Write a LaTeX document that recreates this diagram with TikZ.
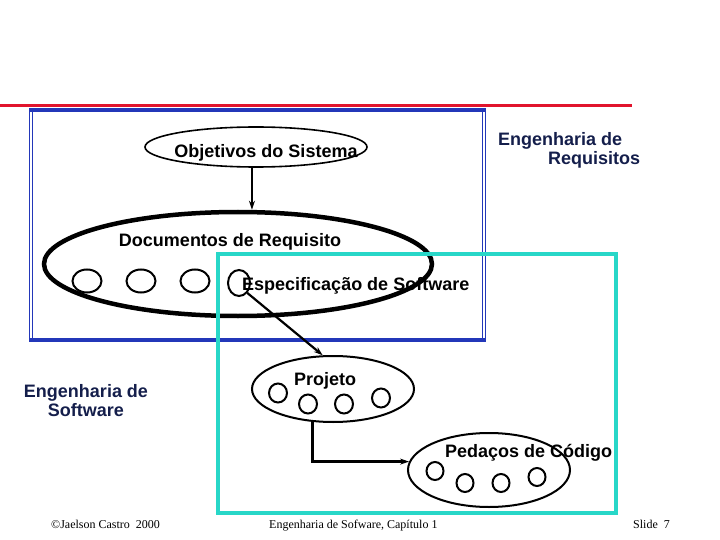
\documentclass[tikz,border=0pt]{standalone}
\usepackage{fontspec}
\setmainfont{Liberation Serif}
\setsansfont{Liberation Sans}
\usepackage{tikz}
\usetikzlibrary{arrows.meta,calc,shapes.geometric}
\definecolor{slidered}{RGB}{225,20,45}
\definecolor{frameblue}{RGB}{35,55,185}
\definecolor{boxcyan}{RGB}{40,215,200}
\definecolor{titlenavy}{RGB}{20,30,75}
\tikzset{
    lbl/.style={font=\fontsize{18}{19}\selectfont\sffamily\bfseries, inner sep=0pt},
    foot/.style={font=\fontsize{12}{14}\selectfont, inner sep=0pt},
    blob/.style={draw, ellipse, inner sep=0pt, line width=2pt},
    conn/.style={-{Stealth[length=9pt,width=6pt]}, line width=2.2pt}
}

\begin{document}
\begin{tikzpicture}[x=1pt,y=-1pt]
    \useasboundingbox (0,0) rectangle (720,540);
    \draw[slidered, line width=3pt] (0,105.5) to (632,105.5);
    \draw[frameblue, line width=0.8pt, double distance=1.6pt] (31,110) rectangle (484,340);
    \draw[frameblue, line width=3.5pt] 
    (30,110) to (485,110)
    (30,340) to (485,340);
    % requisitos
    \node[blob, line width=1.6pt, minimum width=222pt, minimum height=40pt] (obj) at (256,147) {};
    \node[blob, line width=4.5pt, minimum width=388pt, minimum height=104pt] (doc) at (238,264) {};
    \draw[conn] (obj.259) to (obj.259 |- doc.north);
    \node[blob, minimum width=29pt, minimum height=23pt] (c1) at (87,281) {};
    \node[blob, minimum width=29pt, minimum height=23pt] (c2) at (141,281) {};
    \node[blob, minimum width=29pt, minimum height=23pt] (c3) at (195,281) {};
    \node[blob, minimum width=22pt, minimum height=26pt] (c4) at (239,283) {};
    \draw[boxcyan, line width=4pt] (218,254) rectangle (616,513);
    % projeto e codigo
    \node[blob, minimum width=162pt, minimum height=66pt] (proj) at (333,389) {};
    \foreach \n/\x/\y in {1/278/393, 2/308/404, 3/344/404, 4/381/398}
        \node[blob, minimum width=18pt, minimum height=19pt] (p\n) at (\x,\y) {};
    \node[blob, minimum width=162pt, minimum height=74pt] (ped) at (489,470) {};
    \foreach \n/\x/\y in {1/435/471, 2/465/483, 3/501/483, 4/537/477}
        \node[blob, minimum width=17pt, minimum height=18pt] (k\n) at (\x,\y) {};
    \draw[conn] (c4.-50) to (proj.107);
    \draw[conn] (proj.238) |- (ped.174);
    % textos
    \node[lbl, anchor=base] (objtext) at (266,158) {Objetivos do Sistema};
    \node[lbl, anchor=base] (doctext) at (230,247) {Documentos de Requisito};
    \node[lbl, anchor=base west] (esptext) at (242,290) {Especificação de Software};
    \node[lbl, anchor=base west] (projtext) at (294,385) {Projeto};
    \node[lbl, anchor=base west] (pedtext) at (445,457) {Pedaços de Código};
    \node[lbl, titlenavy, anchor=north west, align=left] (ereq) at (498,132) {Engenharia de\\\hspace*{50pt}Requisitos};
    \node[lbl, titlenavy, anchor=north, align=center] (esoft) at (86,384) {Engenharia de\\Software};
    \node[foot, anchor=base west] (autor) at (51,528) {\textcopyright Jaelson Castro\ \ 2000};
    \node[foot, anchor=base west] (curso) at (269,528) {Engenharia de Sofware, Capítulo 1};
    \node[foot, anchor=base west] (slide) at (633,528) {Slide\ \ 7};
\end{tikzpicture}
\end{document}
